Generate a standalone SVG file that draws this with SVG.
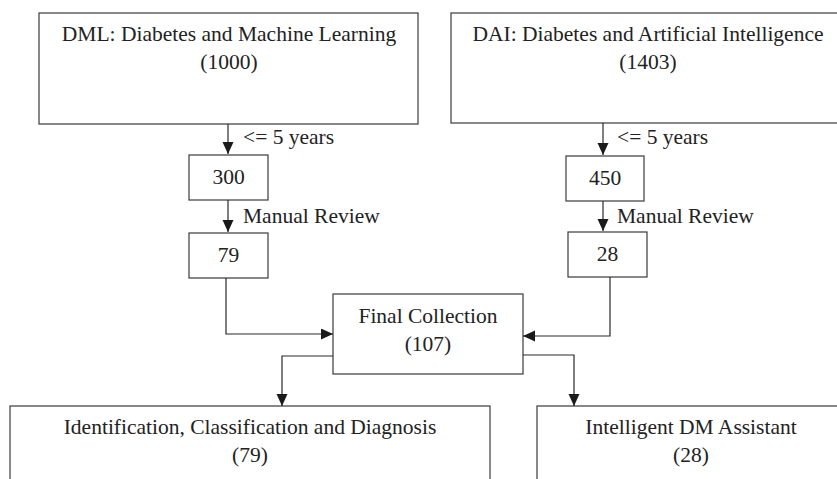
<svg xmlns="http://www.w3.org/2000/svg" width="837" height="479" viewBox="0 0 837 479">
<defs>
<marker id="ah" markerUnits="userSpaceOnUse" markerWidth="12" markerHeight="12" refX="12" refY="5.5" orient="auto">
<path d="M0,0 L12,5.5 L0,11 z" fill="#1a1a1a"/>
</marker>
<style>
rect{fill:#fff;stroke:#3a3a3a;stroke-width:1.2}
text{font-family:"Liberation Serif","Times New Roman",serif;font-size:21.5px;fill:#222}
.c{text-anchor:middle}
.ln{fill:none;stroke:#2a2a2a;stroke-width:1.2;marker-end:url(#ah)}
</style>
</defs>
<rect x="0" y="0" width="837" height="479" style="fill:#fff;stroke:none"/>
<g id="dml">
<rect x="39" y="13" width="379" height="111"/>
<text class="c" x="229" y="41">DML: Diabetes and Machine Learning</text>
<text class="c" x="229" y="69">(1000)</text>
</g>
<g id="dai">
<rect x="451" y="13" width="392" height="110"/>
<text class="c" x="648" y="41">DAI: Diabetes and Artificial Intelligence</text>
<text class="c" x="648" y="69">(1403)</text>
</g>
<g id="n300">
<rect x="189" y="155" width="79" height="45"/>
<text class="c" x="228.5" y="184">300</text>
</g>
<g id="n79">
<rect x="189" y="233" width="79" height="45"/>
<text class="c" x="228.5" y="262">79</text>
</g>
<g id="n450">
<rect x="566" y="156" width="78" height="45"/>
<text class="c" x="605" y="185">450</text>
</g>
<g id="n28">
<rect x="568" y="232" width="79" height="45"/>
<text class="c" x="607.5" y="261">28</text>
</g>
<g id="final">
<rect x="333" y="294" width="190" height="80"/>
<text class="c" x="428" y="323">Final Collection</text>
<text class="c" x="428" y="351">(107)</text>
</g>
<g id="icd">
<rect x="10" y="406" width="480" height="90"/>
<text class="c" x="250" y="434">Identification, Classification and Diagnosis</text>
<text class="c" x="250" y="462">(79)</text>
</g>
<g id="assist">
<rect x="537" y="406" width="308" height="90"/>
<text class="c" x="691" y="434">Intelligent DM Assistant</text>
<text class="c" x="691" y="462">(28)</text>
</g>
<g id="connectors">
<path class="ln" d="M228,124 V154"/>
<path class="ln" d="M228,200 V232"/>
<path class="ln" d="M603,123 V155"/>
<path class="ln" d="M603,201 V231"/>
<path class="ln" d="M226,278 V334 H333"/>
<path class="ln" d="M610,277 V336 H523"/>
<path class="ln" d="M333,356 H282 V406"/>
<path class="ln" d="M523,355 H574 V406"/>
<text x="243" y="144">&lt;= 5 years</text>
<text x="243" y="223">Manual Review</text>
<text x="617" y="144">&lt;= 5 years</text>
<text x="617" y="223">Manual Review</text>
</g>
</svg>
